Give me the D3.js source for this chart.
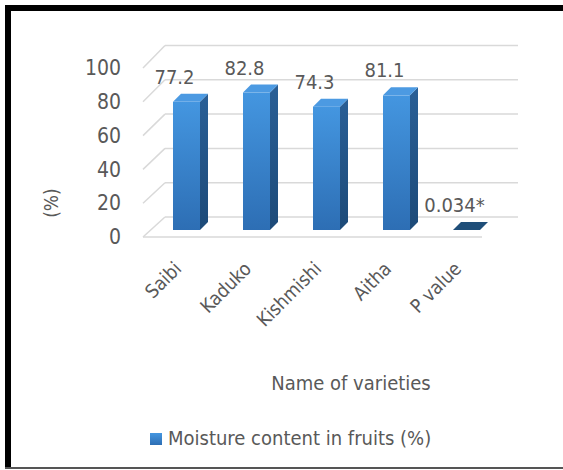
<!DOCTYPE html>
<html>
<head>
<meta charset="utf-8">
<script src="https://cdn.jsdelivr.net/npm/d3@7"></script>
<style>
  body { margin: 0; background: #fff; }
  text { font-family: "Liberation Sans Narrow", "DejaVu Sans Condensed", "Liberation Sans", sans-serif; fill: #595959; }
</style>
</head>
<body>
<svg id="chart" width="563" height="470"></svg>
<script>
var categories = ["Saibi", "Kaduko", "Kishmishi", "Aitha", "P value"];
var moisture = [77.2, 82.8, 74.3, 81.1, 0.034];
var valueLabels = ["77.2", "82.8", "74.3", "81.1", "0.034*"];
var yTicks = [0, 20, 40, 60, 80, 100];
var seriesName = "Moisture content in fruits (%)";

function drawChart() {
    var svg = d3.select("#chart");

    // frame
    svg.append("line").attr("x1", 5).attr("x2", 563).attr("y1", 8).attr("y2", 8)
        .attr("stroke", "#000").attr("stroke-width", 6);
    svg.append("line").attr("x1", 8).attr("x2", 8).attr("y1", 5).attr("y2", 468)
        .attr("stroke", "#000").attr("stroke-width", 6);
    svg.append("line").attr("x1", 5).attr("x2", 563).attr("y1", 468).attr("y2", 468)
        .attr("stroke", "#555").attr("stroke-width", 2);

    var defs = svg.append("defs");
    var gFront = defs.append("linearGradient").attr("id", "front")
        .attr("x1", 0).attr("y1", 0).attr("x2", 0).attr("y2", 1);
    gFront.append("stop").attr("offset", "0%").attr("stop-color", "#4496e0");
    gFront.append("stop").attr("offset", "100%").attr("stop-color", "#2d6eb4");
    var gSide = defs.append("linearGradient").attr("id", "side")
        .attr("x1", 0).attr("y1", 0).attr("x2", 0).attr("y2", 1);
    gSide.append("stop").attr("offset", "0%").attr("stop-color", "#2a5f96");
    gSide.append("stop").attr("offset", "100%").attr("stop-color", "#1d4a78");

    var x = d3.scalePoint().domain(categories).range([186.5, 466.5]);
    var barW = 27, dx = 8, dy = -8;
    var yBar = d3.scaleLinear().domain([0, 100]).range([230, 64]);
    var yFront = d3.scaleLinear().domain([0, 100]).range([237, 68]);
    var yBack = d3.scaleLinear().domain([0, 100]).range([217, 45.5]);
    var backX0 = 165, backX1 = 518, frontX0 = 143, frontX1 = 482;

    // back wall grid + left side diagonals
    var grid = svg.append("g").attr("stroke", "#d9d9d9").attr("stroke-width", 1.5).attr("fill", "none");
    yTicks.forEach(function (t) {
        grid.append("line").attr("x1", backX0).attr("x2", backX1)
            .attr("y1", yBack(t)).attr("y2", yBack(t));
        grid.append("line").attr("x1", frontX0).attr("x2", backX0)
            .attr("y1", yFront(t)).attr("y2", yBack(t));
    });
    grid.append("line").attr("x1", frontX0).attr("x2", frontX1)
        .attr("y1", yFront(0)).attr("y2", yFront(0));

    // y axis labels
    var yAxis = d3.axisLeft(yFront).tickValues(yTicks).tickSize(0).tickPadding(3);
    var ax = svg.append("g").attr("transform", "translate(124,0)").call(yAxis);
    ax.select(".domain").remove();
    ax.selectAll("text").attr("font-size", 21).attr("fill", "#595959")
        .attr("font-family", "Liberation Sans Narrow, DejaVu Sans Condensed, sans-serif");

    // bars
    var bars = svg.selectAll(".bar").data(categories).enter().append("g").attr("class", "bar");
    bars.each(function (c, i) {
        var g = d3.select(this);
        var v = moisture[i];
        var x0 = x(c) - barW / 2, x1 = x(c) + barW / 2;
        var yt = yBar(v), yb = yBar(0);
        g.append("path")
            .attr("d", "M" + x1 + "," + yt + "L" + (x1 + dx) + "," + (yt + dy) +
                "L" + (x1 + dx) + "," + (yb + dy) + "L" + x1 + "," + yb + "Z")
            .attr("fill", "url(#side)");
        g.append("rect").attr("x", x0).attr("y", yt)
            .attr("width", barW).attr("height", yb - yt)
            .attr("fill", "url(#front)");
        g.append("path")
            .attr("d", "M" + x0 + "," + yt + "L" + (x0 + dx) + "," + (yt + dy) +
                "L" + (x1 + dx) + "," + (yt + dy) + "L" + x1 + "," + yt + "Z")
            .attr("fill", v < 1 ? "#1f4e79" : "#4c9ae2");
        g.append("text")
            .attr("x", x(c) - 12).attr("y", yt - 18)
            .attr("text-anchor", "middle").attr("font-size", 20)
            .text(valueLabels[i]);
    });

    // category labels
    svg.selectAll(".cat").data(categories).enter().append("text")
        .attr("class", "cat")
        .attr("transform", function (d) { return "translate(" + (x(d) - 4) + ",270) rotate(-45)"; })
        .attr("text-anchor", "end").attr("font-size", 19)
        .text(function (d) { return d; });

    svg.append("text").attr("transform", "translate(58,203) rotate(-90)")
        .attr("text-anchor", "middle").attr("font-size", 19).text("(%)");

    svg.append("text").attr("x", 351).attr("y", 390)
        .attr("text-anchor", "middle").attr("font-size", 20).text("Name of varieties");

    // legend
    svg.append("rect").attr("x", 150).attr("y", 433).attr("width", 12).attr("height", 12)
        .attr("fill", "url(#front)");
    svg.append("text").attr("x", 168).attr("y", 445).attr("font-size", 20).text(seriesName);
}

drawChart();
</script>
</body>
</html>
